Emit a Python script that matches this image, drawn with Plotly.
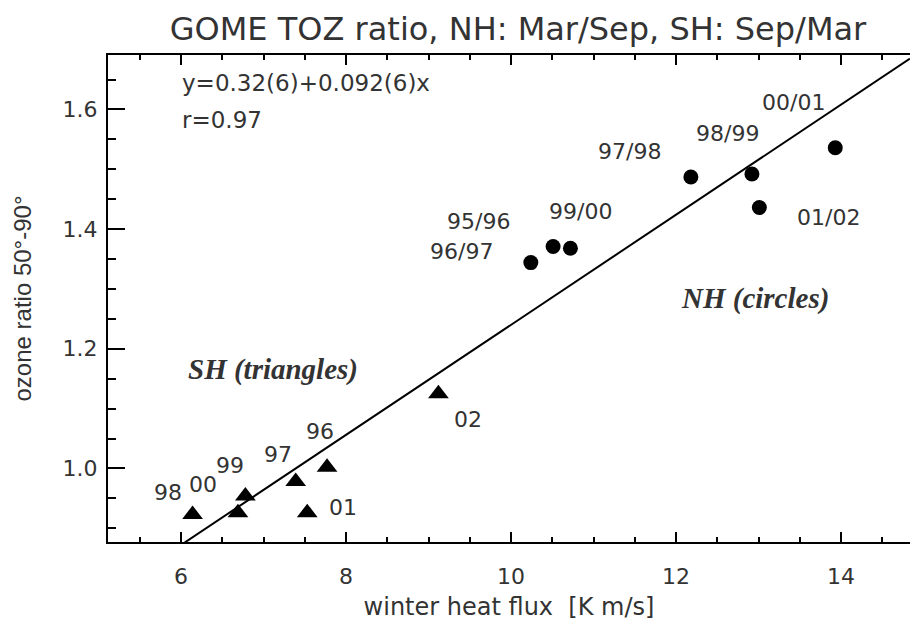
import plotly.graph_objects as go

# ---- data ----
nh_labels = ["95/96", "96/97", "99/00", "97/98", "98/99", "01/02", "00/01"]
nh_flux = [10.51, 10.24, 10.72, 12.18, 12.92, 13.01, 13.93]
nh_ratio = [1.371, 1.344, 1.368, 1.487, 1.492, 1.436, 1.536]

sh_labels = ["98", "00", "99", "97", "96", "01", "02"]
sh_flux = [6.14, 6.69, 6.78, 7.39, 7.77, 7.53, 9.12]
sh_ratio = [0.923, 0.926, 0.954, 0.978, 1.002, 0.926, 1.125]

fit_intercept = 0.32
fit_slope = 0.092

x_ticks = [6, 8, 10, 12, 14]
y_ticks = [1.0, 1.2, 1.4, 1.6]

# label offsets (pixels) relative to their points
nh_shift = [(-75, 25), (-69, 11), (10, 37), (-61, 26), (-24, 41), (69, -10), (-42, 45)]
sh_shift = [(-25, 22), (-35, 28), (-15, 30), (-18, 27), (-7, 36), (36, 5), (30, -26)]

x_range = [5.115, 14.836]
y_range = [0.877, 1.691]

TXT = "#333333"
FONT = "DejaVu Sans, Verdana, sans-serif"
SERIF = "Liberation Serif, Times New Roman, serif"

fig = go.Figure()

fit_x = [x_range[0], x_range[1]]
fit_y = [fit_intercept + fit_slope * v for v in fit_x]
fig.add_trace(go.Scatter(x=fit_x, y=fit_y, mode="lines",
                         line=dict(color="black", width=2), showlegend=False,
                         hoverinfo="skip"))

fig.add_trace(go.Scatter(x=nh_flux, y=nh_ratio, mode="markers",
                         marker=dict(symbol="circle", size=15, color="black"),
                         showlegend=False))
fig.add_trace(go.Scatter(x=sh_flux, y=sh_ratio, mode="markers",
                         marker=dict(symbol="triangle-up", size=18, color="black"),
                         showlegend=False))

ann = []
for lab, x, y, (dx, dy) in zip(nh_labels, nh_flux, nh_ratio, nh_shift):
    ann.append(dict(x=x, y=y, xref="x", yref="y", text=lab, showarrow=False,
                    xanchor="center", yanchor="middle",
                    xshift=dx, yshift=dy, font=dict(family=FONT, size=22, color=TXT)))
for lab, x, y, (dx, dy) in zip(sh_labels, sh_flux, sh_ratio, sh_shift):
    ann.append(dict(x=x, y=y, xref="x", yref="y", text=lab, showarrow=False,
                    xanchor="center", yanchor="middle",
                    xshift=dx, yshift=dy, font=dict(family=FONT, size=22, color=TXT)))

ann.append(dict(x=0.0898, y=0.942, xref="paper", yref="paper", xanchor="left", yanchor="middle",
                text="y=0.32(6)+0.092(6)x", showarrow=False,
                font=dict(family=FONT, size=23, color=TXT)))
ann.append(dict(x=0.0898, y=0.8665, xref="paper", yref="paper", xanchor="left", yanchor="middle",
                text="r=0.97", showarrow=False,
                font=dict(family=FONT, size=23, color=TXT)))
ann.append(dict(x=0.807, y=0.501, xref="paper", yref="paper", xanchor="center", yanchor="middle",
                text="<b><i>NH (circles)</i></b>", showarrow=False,
                font=dict(family=SERIF, size=29, color="#333")))
ann.append(dict(x=0.2057, y=0.355, xref="paper", yref="paper", xanchor="center", yanchor="middle",
                text="<b><i>SH (triangles)</i></b>", showarrow=False,
                font=dict(family=SERIF, size=29, color="#333")))

fig.update_layout(
    width=910, height=621,
    margin=dict(l=108, r=0, t=55, b=79),
    paper_bgcolor="white", plot_bgcolor="white",
    title=dict(text="GOME TOZ ratio, NH: Mar/Sep, SH: Sep/Mar", x=518 / 910, xanchor="center",
               xref="container", yref="container",
               y=1 - 29 / 621, yanchor="middle",
               font=dict(family=FONT, size=32, color=TXT)),
    annotations=ann,
    yaxis2=dict(overlaying="y", side="right", range=y_range, tickvals=y_ticks,
                ticks="inside", ticklen=8, tickwidth=2, tickcolor="black",
                showticklabels=False, showline=False, showgrid=False, zeroline=False),
)

fig.update_xaxes(range=x_range, tickvals=x_ticks, ticks="inside", ticklen=10, tickwidth=2,
                 tickcolor="black", showline=True, linecolor="black", linewidth=2,
                 mirror="ticks", showgrid=False, zeroline=False, ticklabelstandoff=14,
                 minor=dict(dtick=0.5, ticks="inside", ticklen=5, tickcolor="black", tickwidth=2),
                 tickfont=dict(family=FONT, size=22, color=TXT),
                 title=dict(text="winter heat flux\u00a0\u00a0[K m/s]", standoff=10,
                            font=dict(family=FONT, size=24, color=TXT)))
fig.update_yaxes(selector=dict(overlaying=None), range=y_range, tickvals=y_ticks, tickformat=".1f",
                 ticks="inside", ticklen=17,
                 tickwidth=2, tickcolor="black", showline=True, linecolor="black", linewidth=2,
                 mirror=False, showgrid=False, zeroline=False, ticklabelstandoff=4,
                 minor=dict(dtick=0.05, ticks="inside", ticklen=8, tickcolor="black", tickwidth=2),
                 tickfont=dict(family=FONT, size=22, color=TXT),
                 title=dict(text="ozone ratio 50°-90°", standoff=24,
                            font=dict(family="Liberation Sans, Arial, sans-serif", size=24, color=TXT)))

fig.write_html("out.html")
